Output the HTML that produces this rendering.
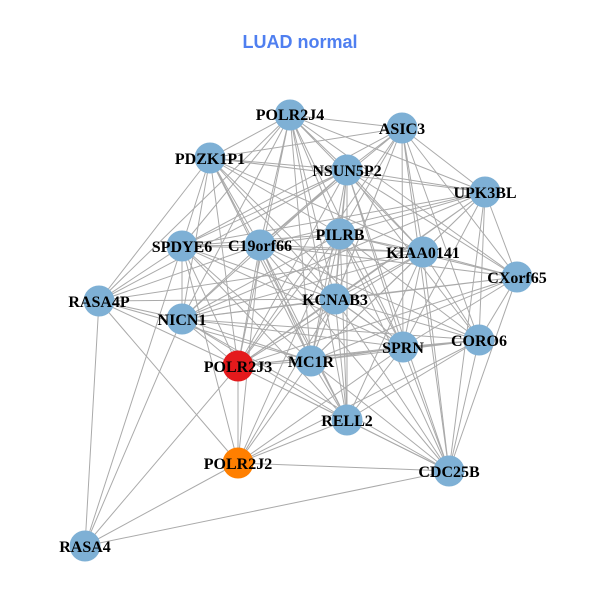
<!DOCTYPE html>
<html><head><style>body{margin:0;background:#fff}svg{display:block}</style></head><body>
<svg width="600" height="600" xmlns="http://www.w3.org/2000/svg">
<rect width="600" height="600" fill="#fff"/>
<text x="300" y="48" text-anchor="middle" font-family="Liberation Sans, sans-serif" font-weight="bold" font-size="18" fill="#4f7ff0">LUAD normal</text>
<g stroke="#aaaaaa" stroke-width="1" fill="none">
<path d="M290 115L402 128M290 115L210 158M290 115L347 170M290 115L485 192M290 115L182 246M290 115L260 245M290 115L340 234M290 115L423 252M290 115L517 277M290 115L335 299M290 115L182 319M290 115L403 347M290 115L311 361M290 115L238 366M290 115L347 420M290 115L99 301"/>
<path d="M402 128L210 158M402 128L347 170M402 128L485 192M402 128L182 246M402 128L260 245M402 128L340 234M402 128L423 252M402 128L517 277M402 128L335 299M402 128L479 340M402 128L403 347M402 128L311 361M402 128L238 366M402 128L449 471"/>
<path d="M210 158L347 170M210 158L485 192M210 158L182 246M210 158L260 245M210 158L340 234M210 158L423 252M210 158L335 299M210 158L182 319M210 158L403 347M210 158L311 361M210 158L238 366M210 158L99 301M210 158L347 420"/>
<path d="M347 170L485 192M347 170L182 246M347 170L260 245M347 170L340 234M347 170L423 252M347 170L517 277M347 170L99 301M347 170L335 299M347 170L182 319M347 170L479 340M347 170L403 347M347 170L311 361M347 170L238 366M347 170L347 420M347 170L449 471"/>
<path d="M485 192L182 246M485 192L260 245M485 192L340 234M485 192L423 252M485 192L517 277M485 192L335 299M485 192L182 319M485 192L479 340M485 192L403 347M485 192L311 361M485 192L238 366M485 192L449 471"/>
<path d="M182 246L260 245M182 246L340 234M182 246L423 252M182 246L335 299M182 246L182 319M182 246L403 347M182 246L311 361M182 246L238 366M182 246L99 301M182 246L347 420M182 246L238 463M182 246L85 546"/>
<path d="M260 245L340 234M260 245L423 252M260 245L517 277M260 245L99 301M260 245L335 299M260 245L182 319M260 245L479 340M260 245L403 347M260 245L311 361M260 245L238 366M260 245L347 420M260 245L238 463M260 245L449 471"/>
<path d="M340 234L423 252M340 234L517 277M340 234L335 299M340 234L182 319M340 234L479 340M340 234L403 347M340 234L311 361M340 234L238 366M340 234L347 420M340 234L238 463M340 234L449 471"/>
<path d="M423 252L517 277M423 252L99 301M423 252L335 299M423 252L182 319M423 252L479 340M423 252L403 347M423 252L311 361M423 252L238 366M423 252L347 420M423 252L449 471"/>
<path d="M517 277L335 299M517 277L182 319M517 277L479 340M517 277L403 347M517 277L311 361M517 277L238 366M517 277L449 471"/>
<path d="M99 301L335 299M99 301L182 319M99 301L311 361M99 301L238 366M99 301L238 463M99 301L85 546"/>
<path d="M335 299L182 319M335 299L479 340M335 299L403 347M335 299L311 361M335 299L238 366M335 299L347 420M335 299L238 463M335 299L449 471"/>
<path d="M182 319L479 340M182 319L403 347M182 319L311 361M182 319L238 366M182 319L347 420M182 319L449 471M182 319L85 546"/>
<path d="M479 340L403 347M479 340L311 361M479 340L238 366M479 340L347 420M479 340L238 463M479 340L449 471"/>
<path d="M403 347L311 361M403 347L238 366M403 347L347 420M403 347L238 463M403 347L449 471"/>
<path d="M311 361L238 366M311 361L347 420M311 361L238 463M311 361L449 471"/>
<path d="M238 366L347 420M238 366L238 463M238 366L449 471M238 366L85 546"/>
<path d="M347 420L238 463M347 420L449 471M238 463L449 471M238 463L85 546M449 471L85 546"/>
</g>
<g fill="#7eb0d5">
<circle cx="290" cy="115" r="15.5"/>
<circle cx="402" cy="128" r="15.5"/>
<circle cx="210" cy="158" r="15.5"/>
<circle cx="347" cy="170" r="15.5"/>
<circle cx="485" cy="192" r="15.5"/>
<circle cx="182" cy="246" r="15.5"/>
<circle cx="260" cy="245" r="15.5"/>
<circle cx="340" cy="234" r="15.5"/>
<circle cx="423" cy="252" r="15.5"/>
<circle cx="517" cy="277" r="15.5"/>
<circle cx="99" cy="301" r="15.5"/>
<circle cx="335" cy="299" r="15.5"/>
<circle cx="182" cy="319" r="15.5"/>
<circle cx="479" cy="340" r="15.5"/>
<circle cx="403" cy="347" r="15.5"/>
<circle cx="311" cy="361" r="15.5"/>
<circle cx="238" cy="366" r="15.5" fill="#e41a1c"/>
<circle cx="347" cy="420" r="15.5"/>
<circle cx="238" cy="463" r="15.5" fill="#ff7f00"/>
<circle cx="449" cy="471" r="15.5"/>
<circle cx="85" cy="546" r="15.5"/>
</g>
<g font-family="Liberation Serif, serif" font-weight="bold" font-size="16" fill="#000" text-anchor="middle">
<text x="290" y="120">POLR2J4</text>
<text x="402" y="134">ASIC3</text>
<text x="210" y="164">PDZK1P1</text>
<text x="347" y="176">NSUN5P2</text>
<text x="485" y="198">UPK3BL</text>
<text x="182" y="252">SPDYE6</text>
<text x="260" y="251">C19orf66</text>
<text x="340" y="240">PILRB</text>
<text x="423" y="258">KIAA0141</text>
<text x="517" y="283">CXorf65</text>
<text x="99" y="307">RASA4P</text>
<text x="335" y="305">KCNAB3</text>
<text x="182" y="325">NICN1</text>
<text x="479" y="346">CORO6</text>
<text x="403" y="353">SPRN</text>
<text x="311" y="367">MC1R</text>
<text x="238" y="372">POLR2J3</text>
<text x="347" y="426">RELL2</text>
<text x="238" y="469">POLR2J2</text>
<text x="449" y="477">CDC25B</text>
<text x="85" y="552">RASA4</text>
</g>
</svg>
</body></html>
